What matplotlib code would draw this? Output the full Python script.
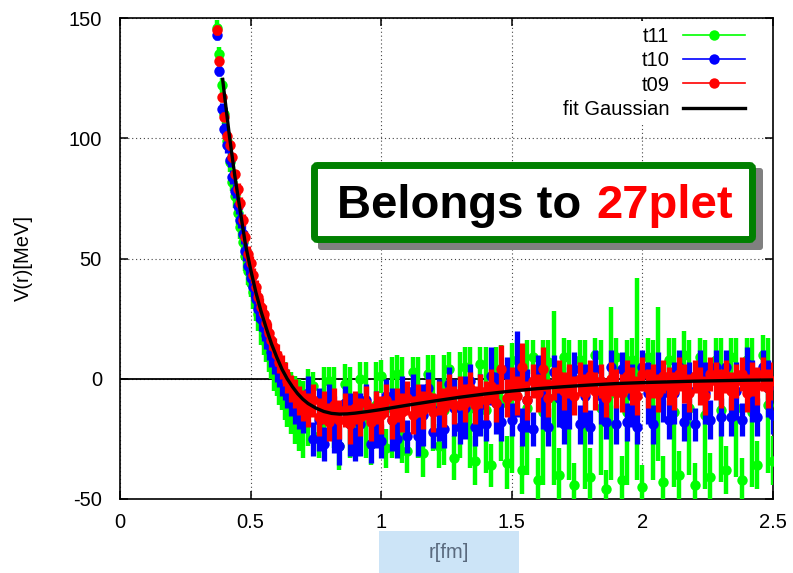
import matplotlib
matplotlib.use('Agg')
import matplotlib.pyplot as plt
from matplotlib.patches import FancyBboxPatch, Rectangle
from matplotlib.lines import Line2D
from matplotlib.transforms import Affine2D

plt.rcParams['font.family'] = ['Liberation Sans', 'DejaVu Sans']

# ---------------- data ----------------
r = [0.37, 0.38, 0.39, 0.40, 0.41, 0.42, 0.43, 0.44, 0.45, 0.46,
     0.47, 0.48, 0.49, 0.50, 0.51, 0.52, 0.53, 0.54, 0.55, 0.56,
     0.57, 0.58, 0.59, 0.60, 0.61, 0.62, 0.63, 0.64, 0.655, 0.67,
     0.685, 0.70,
     0.72, 0.74, 0.76, 0.78, 0.80, 0.82, 0.84, 0.86, 0.88, 0.90,
     0.92, 0.94, 0.96, 0.98, 1.00, 1.02, 1.04, 1.06, 1.08, 1.10,
     1.12, 1.14, 1.16, 1.18, 1.20, 1.22, 1.24, 1.26, 1.28, 1.30,
     1.32, 1.34, 1.36, 1.38, 1.40, 1.42, 1.44, 1.46, 1.48, 1.50,
     1.52, 1.54, 1.56, 1.58, 1.60, 1.62, 1.64, 1.66, 1.68, 1.70,
     1.72, 1.74, 1.76, 1.78, 1.80, 1.82, 1.84, 1.86, 1.88, 1.90,
     1.92, 1.94, 1.96, 1.98, 2.00, 2.02, 2.04, 2.06, 2.08, 2.10,
     2.12, 2.14, 2.16, 2.18, 2.20, 2.22, 2.24, 2.26, 2.28, 2.30,
     2.32, 2.34, 2.36, 2.38, 2.40, 2.42, 2.44, 2.46, 2.48, 2.50]

v_t09 = [145, 132, 117, 109, 101, 97, 92, 85, 79, 73,
         66, 59, 52, 48, 43, 38, 34, 30, 27, 23,
         19, 16, 13, 10, 7, 5, 2, -1, -4, -6,
         -9, -11,
         -13, -9, -16, -12, -18, -11, -17, -13, -19, -12,
         -16, -10, -18, -12, -15, -9, -17, -11, -14, -8,
         -15, -9, -13, -7, -14, -8, -12, -5, -11, -6,
         -10, -4, -11, -5, -9, -3, -10, 4, -8, -2,
         -7, 5, -9, -1, -6, 4, -8, -2, 1, -5,
         -1, -7, 0, -6, 1, -5, -1, -8, 0, -4,
         -6, 1, -3, -7, 2, -4, -1, -6, 1, -3,
         -5, 2, -2, -6, 1, -3, -7, 2, -1, -4,
         1, -5, -1, 2, -6, 0, -3, 2, -4, -1]
e_t09 = [2, 2, 2, 2, 2, 2, 2, 2, 2.5, 2.5,
         2.5, 2.5, 3, 3, 3, 3, 3, 3.5, 3.5, 3.5,
         4, 4, 4, 4.5, 4.5, 5, 5, 5, 5.5, 6,
         6, 6.5,
         7, 7, 8, 7, 8, 7, 8, 7, 8, 7,
         8, 7, 8, 7, 8, 7, 8, 7, 8, 7,
         8, 7, 8, 7, 8, 7, 8, 7, 8, 7,
         8, 7, 8, 7, 8, 7, 8, 10, 8, 7,
         8, 10, 8, 7, 8, 9, 8, 7, 7, 8,
         7, 8, 7, 8, 7, 8, 7, 8, 7, 8,
         8, 7, 8, 8, 7, 8, 7, 8, 7, 8,
         8, 7, 8, 8, 7, 8, 8, 7, 8, 8,
         7, 8, 7, 7, 8, 7, 8, 7, 8, 8]

v_t10 = [143, 128, 112, 104, 97, 91, 84, 78, 72, 66,
         60, 53, 47, 42, 38, 33, 29, 25, 21, 18,
         14, 11, 8, 5, 3, 0, -2, -5, -8, -11,
         -13, -14,
         -6, -25, -17, -27, -9, -19, -28, -10, -19, -27,
         -19, -9, -27, -17, -26, -7, -17, -25, -6, -24,
         -5, -24, -15, -4, -22, -13, -21, -2, -12, -20,
         -12, -1, -20, -11, -19, 1, -10, -18, 2, -17,
         2, -20, -9, -21, 3, -8, -20, 3, -8, -19,
         -8, 4, -19, -7, -20, 4, -7, -18, 5, -19,
         4, -18, -7, -20, 5, -6, -19, 4, -6, -17,
         -6, 5, -18, -5, -19, 5, -6, -17, 5, -16,
         5, -16, -5, -17, 6, -5, -16, 5, -4, -15]
e_t10 = [2, 2, 2.5, 2.5, 3, 3, 3, 3, 3.5, 3.5,
         4, 4, 4, 4.5, 4.5, 5, 5, 5, 5.5, 5.5,
         6, 6, 6, 6.5, 6.5, 7, 7, 7, 7.5, 8,
         8, 8.5,
         7, 7, 13, 7, 7, 12, 8, 7, 13, 7,
         13, 7, 8, 12, 7, 7, 13, 8, 7, 7,
         7, 8, 13, 7, 7, 13, 8, 7, 12, 7,
         13, 7, 8, 13, 7, 12, 13, 8, 7, 7,
         18, 8, 13, 7, 7, 13, 8, 7, 12, 8,
         13, 7, 8, 13, 7, 8, 12, 7, 7, 8,
         7, 8, 13, 7, 7, 13, 8, 7, 12, 8,
         13, 7, 8, 12, 7, 7, 13, 8, 7, 8,
         7, 8, 12, 7, 7, 13, 8, 7, 12, 8]

v_t11 = [146, 135, 122, 110, 99, 90, 82, 76, 69, 63,
         57, 51, 45, 40, 36, 31, 27, 22, 18, 15,
         12, 9, 5, 3, 0, -2, -5, -8, -10, -13,
         -15, -17,
         -12, -3, -24, -14, -1, -12, -28, -2, -14, -25,
         0, -13, -27, -11, 1, -29, -12, 2, -13, -30,
         3, -12, -31, 2, -10, -28, -13, 4, -33, -11,
         5, -12, -34, 6, -13, -36, 4, -10, -35, -12,
         8, -38, -12, 9, -42, -14, 7, -8, -40, 9,
         -13, -44, 8, -15, -41, 10, -12, -46, -6, 9,
         -42, -14, 8, 0, -45, 9, -13, -2, -43, 8,
         -14, -40, 10, -12, -44, 9, -15, -41, 8, -13,
         -38, 9, -12, -42, 8, -14, -36, 10, -11, -34]
e_t11 = [3, 3, 3, 4, 4, 4, 4, 5, 5, 5,
         5, 6, 6, 6, 7, 7, 7, 8, 8, 8,
         9, 9, 10, 10, 11, 11, 12, 12, 13, 14,
         15, 16,
         16, 6, 9, 19, 6, 17, 10, 8, 19, 8,
         7, 20, 9, 18, 7, 8, 21, 8, 22, 9,
         6, 21, 10, 8, 20, 9, 23, 7, 9, 22,
         8, 25, 10, 7, 26, 9, 9, 24, 11, 27,
         8, 10, 28, 7, 9, 30, 9, 36, 11, 8,
         29, 9, 8, 31, 12, 7, 28, 8, 36, 8,
         10, 30, 9, 42, 9, 8, 29, 32, 11, 9,
         31, 10, 10, 28, 9, 8, 31, 10, 9, 30,
         10, 8, 29, 9, 9, 31, 10, 8, 28, 10]

fit_r = [0.393, 0.40, 0.42, 0.44, 0.46, 0.48, 0.50, 0.52, 0.54, 0.56,
         0.58, 0.60, 0.62, 0.64, 0.66, 0.68, 0.70, 0.72, 0.75, 0.78,
         0.81, 0.84, 0.87, 0.90, 0.95, 1.00, 1.10, 1.20, 1.30, 1.40,
         1.50, 1.60, 1.70, 1.80, 1.90, 2.00, 2.10, 2.20, 2.30, 2.40, 2.50]
fit_v = [124.5, 118, 100, 84, 70, 56, 45.5, 36, 28, 21,
         14.5, 9, 4, 0, -3.3, -6.2, -8.5, -10.3, -12.2, -13.6,
         -14.4, -14.7, -14.6, -14.3, -13.6, -12.8, -11.0, -9.3, -7.7, -6.3,
         -5.1, -4.1, -3.3, -2.6, -2.0, -1.6, -1.3, -1.0, -0.8, -0.6, -0.5]

labels = ['t11', 't10', 't09', 'fit Gaussian']
x_ticks = [0, 0.5, 1, 1.5, 2, 2.5]
x_tick_labels = ['0', '0.5', '1', '1.5', '2', '2.5']
y_ticks = [-50, 0, 50, 100, 150]
y_tick_labels = ['-50', '0', '50', '100', '150']

# ---------------- figure ----------------
W, H = 793, 573
fig = plt.figure(figsize=(W / 100, H / 100), dpi=100)
ax = fig.add_axes([120 / W, 1 - 499 / H, 653 / W, 481 / H])
pix = Affine2D().scale(1 / W, -1 / H).translate(0, 1) + fig.transFigure

cols = {'t11': '#00ff00', 't10': '#0000ff', 't09': '#ff0000'}
elw = {'t11': 3.2, 't10': 3.8, 't09': 3.8}
series = [('t11', v_t11, e_t11), ('t10', v_t10, e_t10), ('t09', v_t09, e_t09)]
for i, (name, v, e) in enumerate(series):
    ax.errorbar(r, v, yerr=e, fmt='o', color=cols[name], ms=7.5, mew=0,
                elinewidth=elw[name], capsize=0, zorder=3 + i)
ax.plot(fit_r, fit_v, color='black', lw=2.4, zorder=7)
ax.axhline(0, color='black', lw=1.3, zorder=1)

ax.set_xlim(0, 2.5)
ax.set_ylim(-50, 150)
ax.set_xticks(x_ticks)
ax.set_xticklabels(x_tick_labels)
ax.set_yticks(y_ticks)
ax.set_yticklabels(y_tick_labels)
ax.grid(True, linestyle=(0, (1, 2.5)), color='#444444', lw=0.8, zorder=0)
ax.set_axisbelow(True)
ax.tick_params(direction='in', length=6, width=1.1, top=True, right=True,
               labelsize=14.5)
ax.tick_params(axis='x', pad=10)
ax.tick_params(axis='y', pad=13)
for s in ax.spines.values():
    s.set_linewidth(1.2)

handles = [Line2D([], [], color=cols['t11'], marker='o', ms=7.5, mew=0, lw=1.2),
           Line2D([], [], color=cols['t10'], marker='o', ms=7.5, mew=0, lw=1.2),
           Line2D([], [], color=cols['t09'], marker='o', ms=7.5, mew=0, lw=1.2),
           Line2D([], [], color='black', lw=2.4)]
leg = ax.legend(handles, labels, loc='upper right', markerfirst=False,
                bbox_to_anchor=(751 / W, 1 - 21 / H), bbox_transform=fig.transFigure,
                frameon=True, facecolor='white', edgecolor='none', framealpha=1,
                fancybox=False, fontsize=14.5, handlelength=3.1, handletextpad=0.65,
                labelspacing=0.26, borderpad=0.3, borderaxespad=0)
leg.set_zorder(10)

# annotation box with shadow
shadow = FancyBboxPatch((318, 168), 445, 82, boxstyle='round,pad=0,rounding_size=3',
                        transform=pix, facecolor='#808080', edgecolor='none', zorder=20)
box = FancyBboxPatch((314.5, 165.5), 438, 74, boxstyle='round,pad=0,rounding_size=3',
                     transform=pix, facecolor='white', edgecolor='#008000',
                     linewidth=5.0, zorder=21)
fig.patches.extend([shadow, box])
fig.text(581, 218.5, 'Belongs to', transform=pix, ha='right', va='baseline',
         fontsize=34, fontweight='bold', color='black', zorder=22)
fig.text(596, 218.5, '27plet', transform=pix, ha='left', va='baseline',
         fontsize=34, fontweight='bold', color='#ff0000', zorder=22)

# axis labels
fig.patches.append(Rectangle((379, 531), 140, 42, transform=pix,
                             facecolor='#cce4f7', edgecolor='none', zorder=1))
fig.text(449, 552, 'r[fm]', transform=pix, ha='center', va='center',
         fontsize=14.5, color='#5a6a7e')
fig.text(23, 258, 'V(r)[MeV]', transform=pix, ha='center', va='center',
         rotation=90, fontsize=14.5, color='black')

fig.savefig('out.png', dpi=100)
